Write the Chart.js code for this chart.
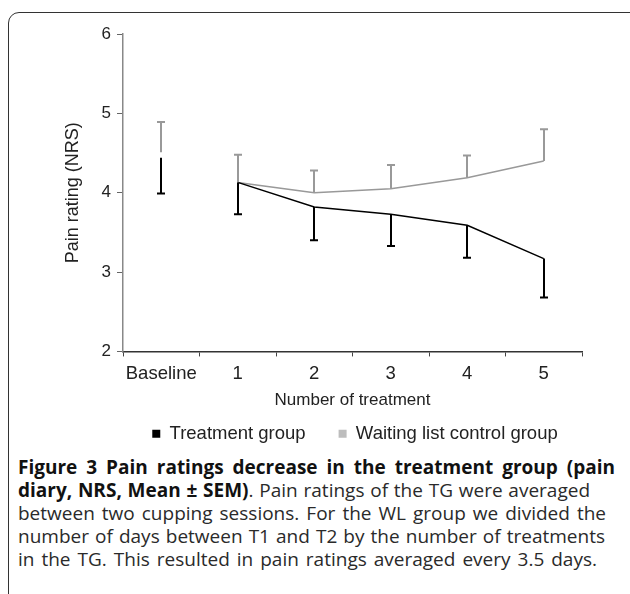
<!DOCTYPE html>
<html>
<head>
<meta charset="utf-8">
<script src="https://cdn.jsdelivr.net/npm/chart.js@4/dist/chart.umd.min.js"></script>
<style>
  html, body { margin: 0; padding: 0; background: #fff; width: 630px; height: 594px; overflow: hidden; }
  #frame { position: absolute; left: 8px; top: 12px; width: 640px; height: 640px; border: 1.5px solid #333; border-radius: 11px; box-sizing: border-box; }
  #wrap { position: absolute; left: 0; top: 0; width: 630px; height: 453px; }
  #caption { position: absolute; left: 18px; top: 456px; font-family: "Open Sans", "Noto Sans", sans-serif; font-size: 19px; color: #2a2a2a; line-height: 23px; }
  #caption div { white-space: nowrap; text-align: justify; text-align-last: justify; }
  #caption b { color: #111; }
</style>
</head>
<body>
<div id="frame"></div>
<div id="wrap"><canvas id="c" width="630" height="453"></canvas></div>
<div id="caption">
  <div style="width:597px"><b>Figure 3 Pain ratings decrease in the treatment group (pain</b></div>
  <div style="width:572px"><b>diary, NRS, Mean ± SEM)</b>. Pain ratings of the TG were averaged</div>
  <div style="width:588px">between two cupping sessions. For the WL group we divided the</div>
  <div style="width:587px">number of days between T1 and T2 by the number of treatments</div>
  <div style="width:579px">in the TG. This resulted in pain ratings averaged every 3.5 days.</div>
</div>
<script>
const categories = ['Baseline', '1', '2', '3', '4', '5'];
const treatmentMean = [4.44, 4.13, 3.82, 3.73, 3.59, 3.17];
const treatmentSEM  = [0.45, 0.40, 0.42, 0.40, 0.41, 0.49];
const waitingMean   = [4.51, 4.13, 4.00, 4.05, 4.19, 4.40];
const waitingSEM    = [0.38, 0.35, 0.28, 0.30, 0.28, 0.40];
const yTicks = [2, 3, 4, 5, 6];

const FONT = "'Liberation Sans', Arial, sans-serif";

const errorBars = {
  id: 'errorBars',
  afterDatasetsDraw(chart) {
    const ctx = chart.ctx;
    const xs = chart.scales.x, ys = chart.scales.y;
    [1, 0].forEach(di => {
      const ds = chart.data.datasets[di];
      const err = ds.errors;
      ctx.save();
      ctx.strokeStyle = ds.errColor;
      ctx.lineWidth = 2;
      ds.data.forEach((v, i) => {
        const x = Math.round(xs.getPixelForValue(i));
        const y0 = ys.getPixelForValue(v);
        const y1 = ys.getPixelForValue(v + ds.errDir * err[i]);
        ctx.beginPath();
        ctx.moveTo(x, y0);
        ctx.lineTo(x, y1);
        ctx.moveTo(x - 4, y1);
        ctx.lineTo(x + 4, y1);
        ctx.stroke();
      });
      ctx.restore();
    });
  }
};

// shifts the legend box horizontally after layout
const legendShift = {
  id: 'legendShift',
  afterLayout(chart) {
    const lg = chart.legend;
    if (lg) { lg.left += 64; lg.right += 64; }
  }
};

const legendColors = ['#000000', '#bdbdbd'];

new Chart(document.getElementById('c'), {
  type: 'line',
  data: {
    labels: categories,
    datasets: [
      {
        label: 'Treatment group',
        data: treatmentMean,
        errors: treatmentSEM,
        errDir: -1,
        errColor: '#000',
        borderColor: '#000',
        backgroundColor: '#000',
        borderWidth: 1.5,
        pointRadius: 0,
        tension: 0,
        segment: { borderColor: c => c.p0DataIndex === 0 ? 'rgba(0,0,0,0)' : '#000' }
      },
      {
        label: 'Waiting list control group',
        data: waitingMean,
        errors: waitingSEM,
        errDir: 1,
        errColor: '#999',
        borderColor: '#999',
        backgroundColor: '#bdbdbd',
        borderWidth: 1.5,
        pointRadius: 0,
        tension: 0,
        segment: { borderColor: c => c.p0DataIndex === 0 ? 'rgba(0,0,0,0)' : '#999' }
      }
    ]
  },
  options: {
    responsive: false,
    animation: false,
    layout: { padding: { top: 34, right: 48, left: 0, bottom: 0 } },
    plugins: {
      tooltip: { enabled: false },
      legend: {
        position: 'bottom',
        labels: {
          boxWidth: 8,
          boxHeight: 8,
          padding: 33,
          color: '#222',
          font: { family: FONT, size: 18.5 },
          generateLabels(chart) {
            return chart.data.datasets.map((ds, i) => ({
              text: ds.label,
              fillStyle: legendColors[i],
              strokeStyle: 'rgba(0,0,0,0)',
              lineWidth: 0,
              fontColor: '#222',
              datasetIndex: i,
              hidden: false
            }));
          }
        }
      }
    },
    scales: {
      x: {
        offset: true,
        grid: { display: true, offset: true, drawOnChartArea: false, drawTicks: true, tickLength: 5, color: '#444' },
        border: { display: true, color: '#333', width: 1.5 },
        ticks: { color: '#222', font: { family: FONT, size: 18.5 }, padding: 6, maxRotation: 0 },
        title: { display: true, text: 'Number of treatment', color: '#222', font: { family: FONT, size: 17 }, padding: { top: 0, bottom: -19.5 } },
        afterFit(s) { s.height = 40.05; }
      },
      y: {
        min: 2, max: 6,
        afterBuildTicks(s) { s.ticks = yTicks.map(v => ({ value: v })); },
        grid: { display: true, drawOnChartArea: false, drawTicks: true, tickLength: 6, color: '#666' },
        border: { display: true, color: '#888', width: 1.5 },
        ticks: { color: '#222', font: { family: FONT, size: 17 }, padding: 6 },
        title: { display: true, text: 'Pain rating (NRS)', color: '#222', font: { family: FONT, size: 18 }, padding: { top: 62, bottom: 0 } },
        afterFit(s) { s.width = 123; }
      }
    }
  },
  plugins: [errorBars, legendShift]
});
</script>
</body>
</html>
